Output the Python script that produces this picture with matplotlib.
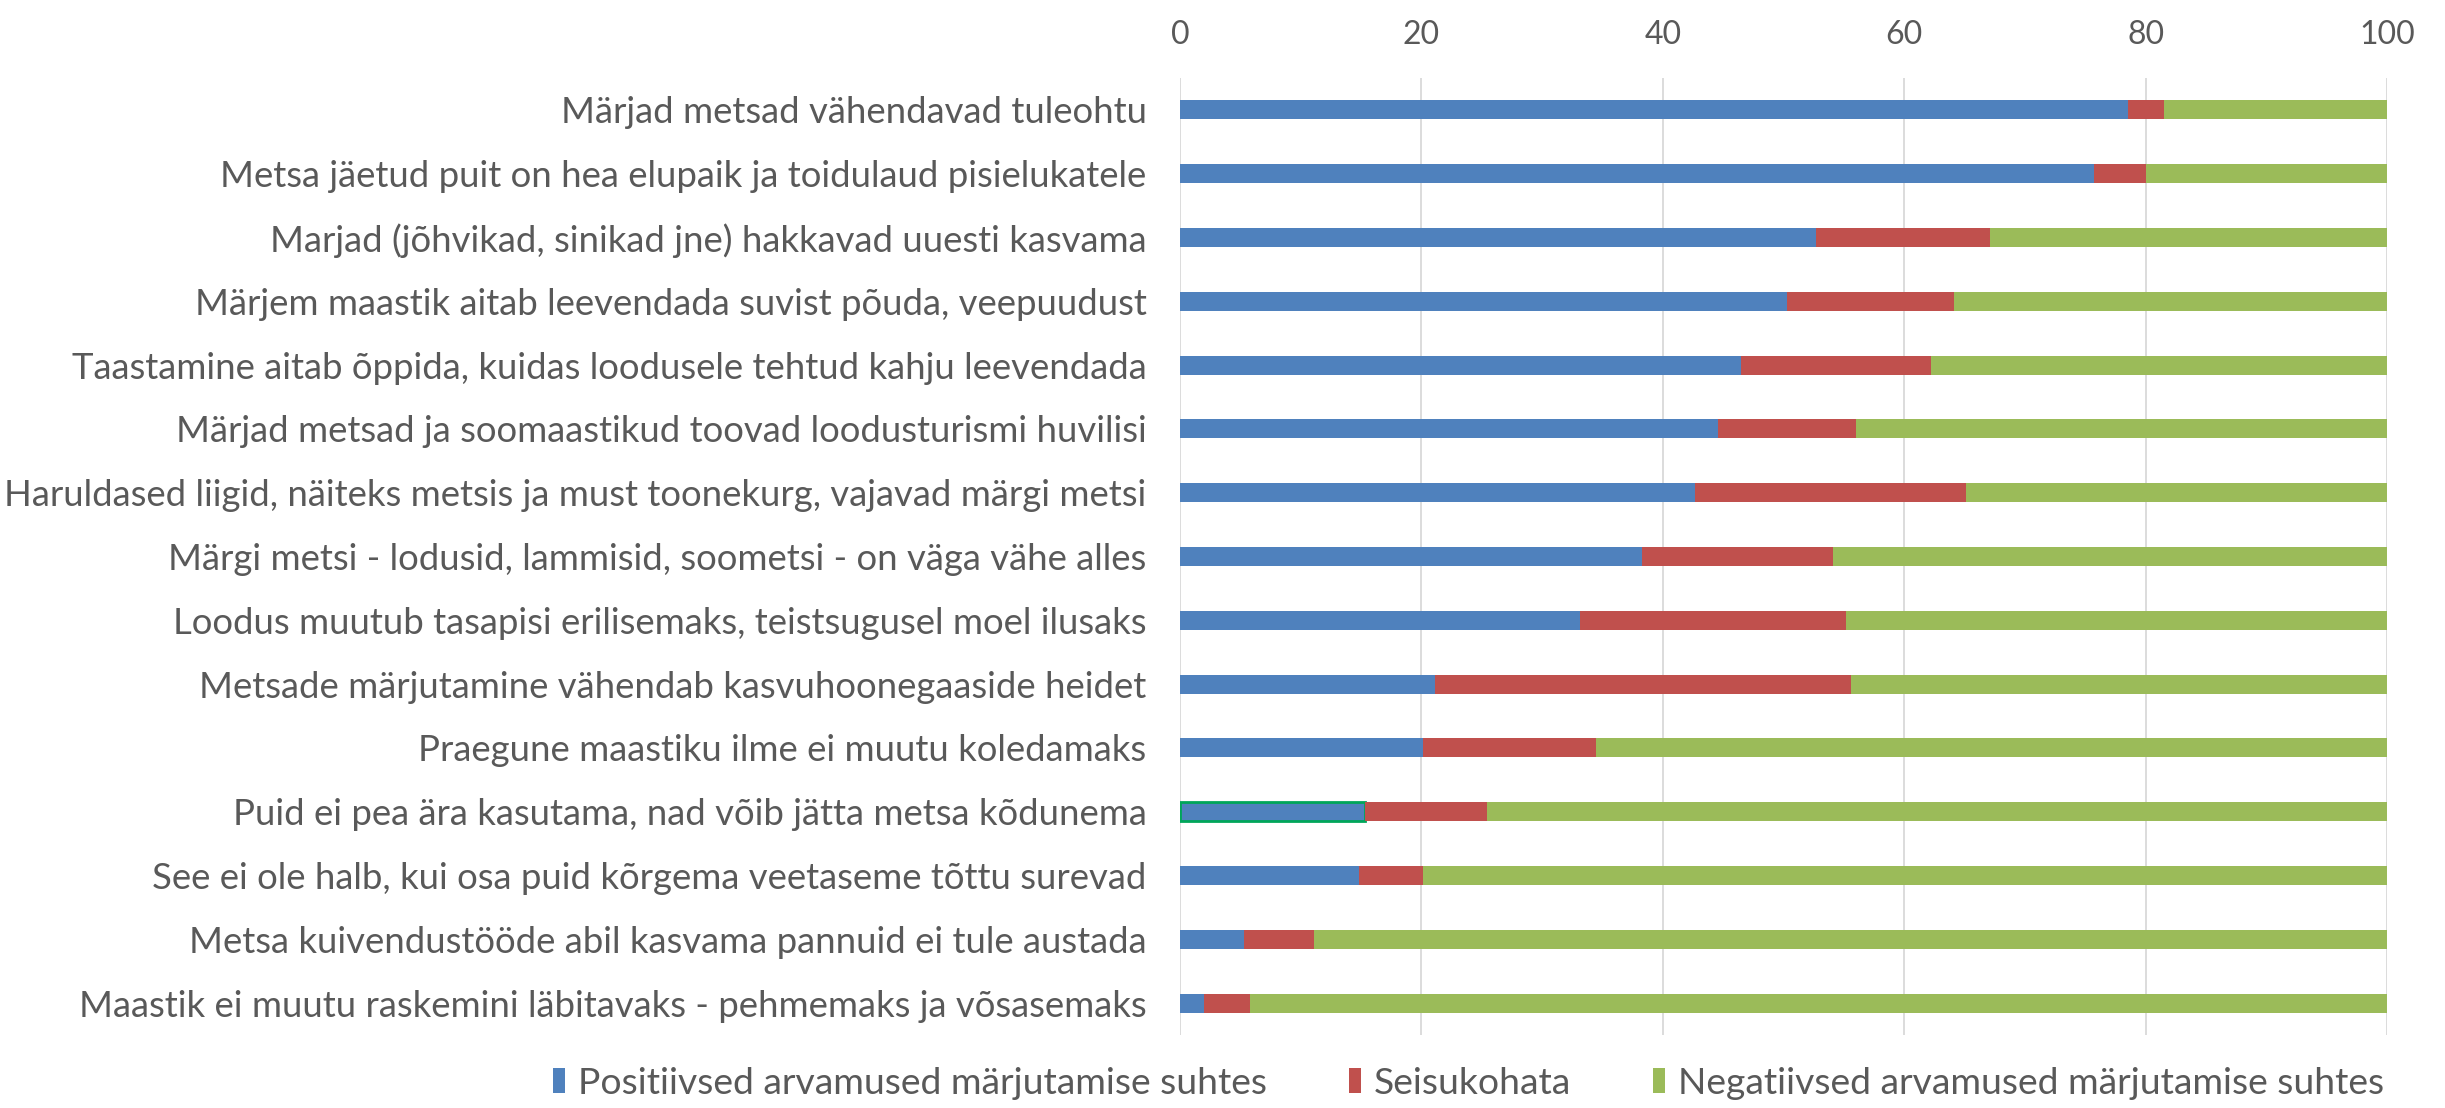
import matplotlib
matplotlib.use("Agg")
import matplotlib.pyplot as plt
import numpy as np

categories = [
    "Märjad metsad vähendavad tuleohtu",
    "Metsa jäetud puit on hea elupaik ja toidulaud pisielukatele",
    "Marjad (jõhvikad, sinikad jne) hakkavad uuesti kasvama",
    "Märjem maastik aitab leevendada suvist põuda, veepuudust",
    "Taastamine aitab õppida, kuidas loodusele tehtud kahju leevendada",
    "Märjad metsad ja soomaastikud toovad loodusturismi huvilisi",
    "Haruldased liigid, näiteks metsis ja must toonekurg, vajavad märgi metsi",
    "Märgi metsi - lodusid, lammisid, soometsi - on väga vähe alles",
    "Loodus muutub tasapisi erilisemaks, teistsugusel moel ilusaks",
    "Metsade märjutamine vähendab kasvuhoonegaaside heidet",
    "Praegune maastiku ilme ei muutu koledamaks",
    "Puid ei pea ära kasutama, nad võib jätta metsa kõdunema",
    "See ei ole halb, kui osa puid kõrgema veetaseme tõttu surevad",
    "Metsa kuivendustööde abil kasvama pannuid ei tule austada",
    "Maastik ei muutu raskemini läbitavaks - pehmemaks ja võsasemaks",
]
positive = [78.5, 75.7, 52.7, 50.3, 46.5, 44.6, 42.7, 38.3, 33.1, 21.1, 20.1, 15.3, 14.8, 5.3, 2.0]
neutral = [3.0, 4.3, 14.4, 13.8, 15.7, 11.4, 22.4, 15.8, 22.1, 34.5, 14.4, 10.1, 5.3, 5.8, 3.8]
negative = [100 - p - n for p, n in zip(positive, neutral)]
series_names = ["Positiivsed arvamused märjutamise suhtes", "Seisukohata",
                "Negatiivsed arvamused märjutamise suhtes"]
xticks = [0, 20, 40, 60, 80, 100]

colors = ["#4F81BD", "#C0504D", "#9BBB59"]
text_color = "#595959"
font = ["Lato", "DejaVu Sans"]
plt.rcParams["font.family"] = font

fig = plt.figure(figsize=(24.45, 11.08), dpi=100)
ax = fig.add_axes([0.4826, 0.0659, 0.4937, 0.8637])

y = np.arange(len(categories))
pos = np.array(positive)
neu = np.array(neutral)
neg = np.array(negative)
h = 0.3
b1 = ax.barh(y, pos, height=h, color=colors[0], label=series_names[0], zorder=3)
b2 = ax.barh(y, neu, left=pos, height=h, color=colors[1], label=series_names[1], zorder=3)
b3 = ax.barh(y, neg, left=pos + neu, height=h, color=colors[2], label=series_names[2], zorder=3)
# highlighted segment outline (as in the reference)
b1[11].set_edgecolor("#00A65A")
b1[11].set_linewidth(2)

ax.set_ylim(len(categories) - 0.5, -0.5)
ax.set_xlim(0, 100)
ax.set_xticks(xticks)
ax.set_yticks(y)
ax.set_yticklabels(categories)
ax.xaxis.tick_top()
ax.tick_params(axis="x", length=0, pad=20, labelsize=23, labelcolor=text_color)
ax.tick_params(axis="y", length=0, pad=24, labelsize=26.3, labelcolor=text_color)
for s in ax.spines.values():
    s.set_visible(False)
ax.grid(axis="x", color="#D9D9D9", linewidth=1.3, zorder=0)
ax.set_axisbelow(True)

leg = fig.legend(handles=[b1, b2, b3], labels=series_names, loc="center",
                 bbox_to_anchor=(0.6008, 0.0225), ncol=3, frameon=False, fontsize=26.8,
                 handlelength=0.32, handleheight=0.65, handletextpad=0.35, columnspacing=2.2,
                 labelcolor=text_color, borderpad=0)

fig.savefig("out.png", dpi=100)
